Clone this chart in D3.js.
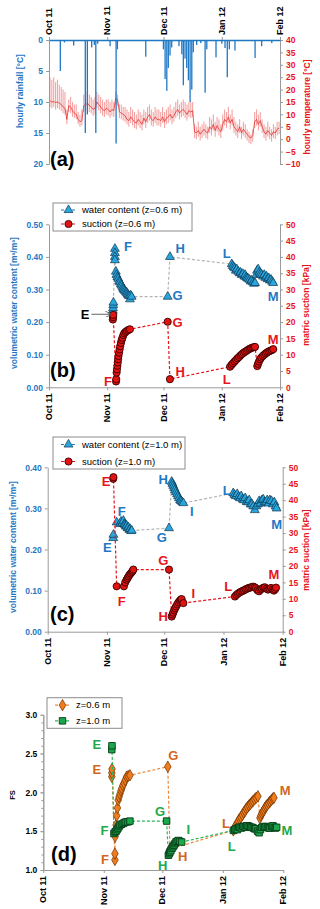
<!DOCTYPE html>
<html lang="en">
<head>
<meta charset="UTF-8">
<title>Rainfall, suction and FS, Oct 2011 - Feb 2012</title>
<script src="https://cdn.jsdelivr.net/npm/d3@7"></script>
<style>
  body { margin: 0; background: #fff; }
  svg { display: block; font-family: "Liberation Sans", Arial, sans-serif; }
</style>
</head>
<body>
<svg id="chart" width="320" height="909"></svg>
<script>
// ---- data (day = days after 1 Oct 2011) ----
const monthDays = [0, 31, 61, 92, 123];
const monthLabels = ["Oct 11", "Nov 11", "Dec 11", "Jan 12", "Feb 12"];

// hourly rainfall peaks [mm]
const rainDay = [6.0, 8.2, 13.1, 19.3, 20.4, 22.7, 24.1, 24.9, 25.9, 32.5, 35.7, 36.4, 51.5,
  60.9, 61.8, 62.7, 63.5, 64.4, 65.3, 69.2, 70.7, 71.5, 72.4, 73.3, 74.2, 75.1, 76.0, 76.8,
  78.6, 80.8, 83.1, 84.0, 88.9, 92.0, 93.7, 94.9, 96.0, 99.0, 109.7, 113.2, 118.6];
const rainMm = [5.0, 0.4, 0.9, 15.0, 12.0, 1.2, 0.8, 15.0, 0.6, 1.0, 16.7, 1.5, 2.7,
  1.5, 6.3, 8.2, 4.5, 2.5, 1.2, 1.0, 2.3, 7.3, 3.0, 4.5, 6.5, 10.0, 8.0, 2.0,
  0.8, 0.5, 8.5, 1.5, 2.8, 0.6, 1.3, 6.0, 1.5, 1.7, 2.9, 1.0, 0.5];

// daily temperature [°C]
const tempMean = [15.5,15,15.2,14.8,15,14.5,14,13,12.5,8, 13.5,13,11.5,10.5,10,8,7,7.5,13.5,14,
  14.5,13.5,13,12,12.5,15,14,13,12,11.5, 12.5,12,11,12,11.5,16.5,16,11,10.5,10,
  9.5,8,7.5,9,8,7,6.5,8,7,6, 8.5,7,9,10,8,7.5,9,8,8,7.5,
  9,7,8.5,9,10,8.5,9.5,11,12,10.5, 11.5,12,11,10,11.5,11,11.5,3,2.5,3.5,
  2,3,4,3,2.5,5,4,6,3.5,5.5, 4,3,6,8,7,9,6.5,8,5,4,
  3,5,2.5,4,3,2,1,0.5,1.5,7, 8,6,7.5,5,3,2,3.5,2.5,1.5,3, 2.5,4,4.5];
const tempMax = [25,24,25,23,24,22,21,20,19,12, 16,17,15,14,14,11,10,12,18,19,
  19,18,17,16,17,19,18,17,16,15, 16,16,15,16,15,19,18,14,14,13,
  13,12,11,13,12,11,10,12,11,10, 12,11,13,14,12,11,13,12,12,11,
  13,11,12,13,14,12,13,15,16,14, 15,16,15,14,15,15,15,6,5,7,
  5,6,7,6,5,9,8,10,7,9, 8,6,10,12,11,13,10,12,9,7,
  6,8,5,7,6,4,3,2,4,11, 12,10,11,8,6,5,7,5,4,6, 5,7,7];
const tempMin = [13,12.5,13,12,12.5,12,11.5,10.5,10,6, 11,10.5,9,8.5,8,6,5,5.5,11,11.5,
  12,11,10.5,9.5,10,12.5,11.5,10.5,9.5,9, 10,9.5,8.5,9.5,9,14,13.5,8.5,8,7.5,
  7,6,5,6.5,5.5,4.5,4,5.5,4.5,3.5, 6,4.5,6.5,7.5,5.5,5,6.5,5.5,5.5,5,
  6.5,4.5,6,6.5,7.5,6,7,8.5,9.5,8, 9,9.5,8.5,7.5,9,8.5,9,0.5,0,1,
  -0.5,0.5,1.5,0.5,0,2.5,1.5,3.5,1,3, 1.5,0.5,3.5,5.5,4.5,6.5,4,5.5,2.5,1.5,
  0.5,2.5,0,1.5,0.5,-0.5,-1.5,-2,-1,4.5, 5.5,3.5,5,2.5,0.5,-0.5,1,0,-1,0.5, 0,1.5,2];

// (b) z = 0.6 m : [day, water content m3/m3] and [day, suction kPa]
const wcB = [[34.0,0.235],[34.1,0.243],[34.2,0.252],[34.3,0.260],
  [35.1,0.425],[35.1,0.412],[35.1,0.400],[35.1,0.390],[35.6,0.355],[35.9,0.345],[36.4,0.338],
  [36.9,0.333],[37.4,0.326],[37.8,0.322],[38.3,0.316],[38.7,0.312],[39.2,0.306],[39.6,0.302],
  [40.0,0.298],[40.5,0.296],[41.0,0.292],[41.4,0.290],[41.8,0.286],[42.2,0.283],[42.6,0.280],
  [43.1,0.270],[43.5,0.282],[44.0,0.278],
  [63.2,0.278],[64.4,0.400],
  [97.3,0.378],[97.8,0.372],[98.4,0.368],[99.0,0.365],[99.5,0.358],[100.0,0.362],[100.8,0.355],
  [101.5,0.350],[102.0,0.352],[102.6,0.345],[103.2,0.348],[104.0,0.340],[104.4,0.345],[105.0,0.338],
  [105.5,0.335],[106.1,0.333],[106.8,0.330],[107.4,0.325],[107.9,0.328],[108.6,0.322],[109.2,0.318],
  [109.7,0.320],[110.4,0.345],[110.8,0.358],[111.4,0.362],[112.0,0.352],[112.6,0.348],[113.3,0.345],
  [114.0,0.340],[114.6,0.345],[115.2,0.336],[115.8,0.340],[116.4,0.332],[117.0,0.335],[117.6,0.328],
  [118.2,0.330],[118.8,0.324],[119.4,0.320]];
const suB = [[34.0,20.8],[34.1,21.5],[34.2,22.2],
  [35.7,1.8],[35.8,2.5],[36.0,4.5],[36.2,5.5],[36.4,6.6],[36.6,7.6],[36.8,8.6],[37.0,9.6],
  [37.3,10.6],[37.6,11.6],[37.9,12.6],[38.3,13.6],[38.7,14.5],[39.1,15.2],[39.6,16.0],[40.1,16.6],
  [40.8,17.0],[41.5,17.3],[42.3,17.6],[43.1,17.8],
  [63.2,20.1],[64.4,2.5],
  [96.4,6.3],[97.2,6.9],[98.0,7.4],[98.8,7.9],[99.6,8.4],[100.4,8.9],[101.2,9.3],[102.0,9.8],
  [102.8,10.2],[103.6,10.6],[104.4,10.9],[105.2,11.2],[106.0,11.5],[106.8,11.8],[107.6,12.0],
  [108.4,12.2],[109.2,12.3],[109.7,12.4],
  [110.9,6.5],[111.3,7.2],[111.8,7.9],[112.4,8.6],[113.0,9.1],[113.8,9.6],[114.6,10.0],
  [115.4,10.4],[116.2,10.7],[117.0,11.0],[117.8,11.2],[118.6,11.4],[119.4,11.7]];

// (c) z = 1.0 m
const wcC = [[34.3,0.228],[34.4,0.236],[36.1,0.266],[37.8,0.262],[38.4,0.268],[39.0,0.264],
  [39.6,0.270],[40.1,0.262],[40.5,0.260],[40.9,0.256],[41.3,0.258],[41.8,0.252],[42.2,0.254],
  [42.7,0.248],[43.1,0.250],[43.6,0.245],[44.0,0.246],
  [63.5,0.252],
  [64.9,0.365],[65.3,0.360],[65.7,0.355],[66.2,0.350],[66.6,0.345],[67.1,0.340],[67.7,0.335],
  [68.2,0.330],[68.7,0.325],[69.3,0.320],[69.8,0.318],[70.4,0.315],[71.0,0.313],
  [97.1,0.337],[97.8,0.333],[98.5,0.330],[99.2,0.335],[99.9,0.328],[100.6,0.325],[101.3,0.330],
  [102.0,0.322],[102.7,0.320],[103.4,0.325],[104.1,0.316],[104.8,0.315],[105.5,0.320],[106.2,0.310],
  [106.9,0.310],[107.6,0.305],[108.4,0.296],[109.2,0.305],[110.0,0.310],[110.7,0.318],[111.4,0.312],
  [112.1,0.320],[112.8,0.322],[113.5,0.315],[114.2,0.315],[114.9,0.320],[115.6,0.312],[116.3,0.320],
  [117.1,0.318],[117.9,0.310],[118.6,0.315],[119.3,0.305],[119.8,0.300]];
const suC = [[34.3,46.5],[34.4,47.0],
  [36.1,13.8],[39.9,13.8],[40.6,15.0],[41.3,15.8],[41.8,16.3],[42.3,16.8],[42.8,17.3],[43.4,17.7],
  [44.0,18.1],[44.5,18.5],[44.8,18.9],
  [63.5,18.9],
  [64.9,4.6],[65.3,5.2],[65.7,5.8],[66.2,6.5],[66.7,7.1],[67.2,7.7],[67.8,8.3],[68.4,8.9],
  [69.1,9.4],[69.7,9.8],[70.1,9.9],[71.0,8.7],
  [98.0,10.7],[98.8,11.2],[99.6,11.6],[100.4,11.9],[101.2,12.2],[102.0,12.4],[102.8,12.6],
  [103.6,12.9],[104.4,13.1],[105.2,13.3],[106.0,13.4],[106.8,13.6],[107.6,13.7],[108.4,13.5],
  [109.0,13.2],[109.8,12.6],[110.6,12.3],[111.4,12.8],[112.1,13.1],[112.9,13.4],[113.7,13.5],
  [114.5,13.1],[115.3,12.8],[116.1,13.0],[116.9,13.3],[117.7,12.8],[118.4,12.5],[119.0,12.9],
  [119.5,13.4]];

// (d) factor of safety
const fs06 = [[35.1,2.20],[35.1,2.25],[35.2,2.30],
  [36.7,1.13],[36.7,1.21],[36.8,1.43],[37.0,1.50],[37.3,1.58],[37.6,1.70],[38.0,1.80],[38.4,1.90],
  [38.8,1.94],[39.3,1.98],[39.8,2.02],[40.2,2.05],[40.8,2.09],[41.4,2.12],[42.0,2.16],[42.7,2.20],
  [43.5,2.21],[44.4,2.22],
  [63.8,2.33],[64.9,1.27],
  [97.4,1.51],[98.0,1.54],[98.6,1.57],[99.3,1.60],[100.0,1.63],[100.6,1.66],[101.3,1.68],
  [102.0,1.71],[102.7,1.74],[103.4,1.76],[104.0,1.79],[104.7,1.81],[105.4,1.83],[106.1,1.85],
  [106.8,1.87],[107.5,1.89],[108.3,1.91],[109.1,1.93],[110.0,1.95],
  [111.0,1.67],[111.5,1.70],[112.0,1.73],[112.6,1.75],[113.1,1.77],[113.6,1.80],[114.2,1.82],
  [114.8,1.84],[115.5,1.86],[116.2,1.88],[116.9,1.90],[117.6,1.92],[118.2,1.93]];
const fs10 = [[35.1,2.55],[35.2,2.60],
  [36.2,1.47],[36.8,1.49],[37.3,1.50],[37.8,1.52],[38.3,1.54],[38.8,1.56],[39.3,1.58],[40.1,1.59],
  [40.9,1.60],[41.6,1.61],[42.4,1.62],[43.4,1.62],[44.4,1.63],
  [63.2,1.63],
  [64.1,1.19],[64.5,1.21],[64.9,1.23],[65.4,1.25],[66.0,1.28],[66.5,1.30],[67.0,1.32],[67.5,1.34],
  [68.0,1.36],[68.6,1.37],[69.2,1.38],[70.0,1.37],[70.9,1.36],
  [97.4,1.51],[98.1,1.52],[98.8,1.53],[99.5,1.52],[100.2,1.55],[100.8,1.55],[101.5,1.54],
  [102.2,1.56],[102.9,1.56],[103.6,1.55],[104.2,1.57],[104.9,1.57],[105.6,1.56],[106.3,1.55],
  [107.0,1.55],[107.7,1.54],[108.4,1.53],[109.0,1.53],[109.8,1.50],[110.6,1.48],[111.3,1.52],
  [112.0,1.55],[112.8,1.56],[113.5,1.55],[114.2,1.56],[114.9,1.55],[115.6,1.54],[116.2,1.54],
  [117.0,1.56],[117.7,1.57],[118.4,1.55],[119.0,1.54],[119.6,1.55]];

// point labels: [text, colour, day, value, axis]
const labB = [["F","blue",42.1,0.431,"wc"],["H","blue",69.8,0.427,"wc"],["L","blue",94.6,0.409,"wc"],
  ["G","blue",68.5,0.283,"wc"],["M","blue",119.3,0.278,"wc"],["E","black",19.2,0.224,"wc"],
  ["G","red",68.5,19.9,"su"],["M","red",119.4,14.7,"su"],["F","red",31.4,1.7,"su"],
  ["H","red",69.8,4.8,"su"],["L","red",94.6,2.5,"su"]];
const labC = [["E","red",30.5,45.7,"su"],["H","blue",60.5,0.370,"wc"],["L","blue",93.7,0.343,"wc"],
  ["F","blue",38.7,0.292,"wc"],["I","blue",75.4,0.292,"wc"],["M","blue",119.8,0.262,"wc"],
  ["E","blue",31.2,0.206,"wc"],["G","blue",59.7,0.228,"wc"],["G","red",60.5,21.8,"su"],
  ["M","red",118.4,17.3,"su"],["F","red",38.7,9.1,"su"],["I","red",76.2,11.5,"su"],
  ["L","red",94.5,13.7,"su"],["H","red",60.5,4.6,"su"]];
const labD = [["E","green",27.4,2.62],["E","orange",27.4,2.30],["G","orange",66.6,2.47],
  ["M","orange",123.9,2.03],["G","green",59.8,1.75],["F","green",31.3,1.51],["I","green",74.3,1.52],
  ["M","green",124.8,1.51],["L","orange",93.6,1.60],["L","green",96.6,1.30],["H","orange",71.5,1.17],
  ["F","orange",31.6,1.13],["H","green",61.2,1.06]];

// ---- styles ----
const col = {
  blue: "#1f78c4", red: "#e8141b", black: "#000", orange: "#d2661c", green: "#22a84a",
  tri: "#2aa6de", triEdge: "#0b3550", circ: "#e01212", circEdge: "#3a0000",
  dia: "#f07c1c", diaEdge: "#6a3000", sq: "#1ba84c", sqEdge: "#073a17",
  grey: "#9a9a9a", pink: "#f4a4a4", tline: "#e33232"
};

const svg = d3.select("#chart");
const t0 = Date.UTC(2011, 9, 1);
const day = d => new Date(t0 + d * 864e5);

function xScale(x0, x1) {
  return d3.scaleUtc().domain([day(0), day(123)]).range([x0, x1]);
}

function styleAxis(g, color, size) {
  g.attr("font-family", null).attr("font-size", null);
  g.select(".domain").attr("stroke", col.grey);
  g.selectAll(".tick line").attr("stroke", col.grey);
  g.selectAll("text").attr("fill", color)
    .style("font-size", (size || 8.5) + "px").style("font-weight", "bold");
}

function yAxis(scale, x, ticks, fmt, color, side) {
  const ax = (side === "right" ? d3.axisRight(scale) : d3.axisLeft(scale))
    .tickValues(ticks).tickFormat(fmt).tickSize(3).tickPadding(3).tickSizeOuter(0);
  const g = svg.append("g").attr("transform", `translate(${x},0)`).call(ax);
  styleAxis(g, color);
  return g;
}

function monthAxis(x, y, top) {
  const ax = (top ? d3.axisTop(x) : d3.axisBottom(x))
    .tickValues(monthDays.map(day)).tickFormat("").tickSize(3).tickSizeOuter(0);
  const g = svg.append("g").attr("transform", `translate(0,${y})`).call(ax);
  styleAxis(g, "#000");
  monthDays.forEach((m, i) => {
    svg.append("text")
      .attr("transform", `translate(${x(day(m))},${top ? y - 5 : y + 6}) rotate(-90)`)
      .attr("text-anchor", top ? "start" : "end")
      .attr("dy", "0.35em")
      .style("font-size", "9px").style("font-weight", "bold")
      .text(monthLabels[i]);
  });
  return g;
}

function axisTitle(text, x, y, color, size) {
  svg.append("text")
    .attr("transform", `translate(${x},${y}) rotate(-90)`)
    .attr("text-anchor", "middle").attr("dy", "0.35em")
    .attr("fill", color)
    .style("font-size", (size || 8.5) + "px").style("font-weight", "bold")
    .text(text);
}

function panelTag(text, x, y) {
  svg.append("text").attr("x", x).attr("y", y)
    .style("font-size", "20px").style("font-weight", "bold").text(text);
}

const symTri = d3.symbol().type(d3.symbolTriangle).size(34)();
const symDia = d3.symbol().type(d3.symbolDiamond).size(38)();
const symSq = d3.symbol().type(d3.symbolSquare).size(42)();

const markers = {
  tri: g => g.append("path").attr("d", symTri).attr("fill", col.tri).attr("stroke", col.triEdge).attr("stroke-width", 0.7),
  circ: g => g.append("circle").attr("r", 3.6).attr("fill", col.circ).attr("stroke", col.circEdge).attr("stroke-width", 0.9),
  dia: g => g.append("path").attr("d", symDia).attr("fill", col.dia).attr("stroke", col.diaEdge).attr("stroke-width", 0.7),
  sq: g => g.append("path").attr("d", symSq).attr("fill", col.sq).attr("stroke", col.sqEdge).attr("stroke-width", 0.9)
};

function series(data, x, y, lineColor, marker) {
  const line = d3.line().x(d => x(day(d[0]))).y(d => y(d[1]));
  svg.append("path").datum(data).attr("d", line)
    .attr("fill", "none").attr("stroke", lineColor)
    .attr("stroke-width", 1.2).attr("stroke-dasharray", "3,2");
  svg.append("g").selectAll("g").data(data).join("g")
    .attr("transform", d => `translate(${x(day(d[0]))},${y(d[1])})`)
    .each(function () { markers[marker](d3.select(this)); });
}

function pointLabels(list, x, yFor) {
  svg.append("g").selectAll("text").data(list).join("text")
    .attr("x", d => x(day(d[2])))
    .attr("y", d => yFor(d)(d[3]))
    .attr("text-anchor", "middle").attr("dominant-baseline", "central")
    .attr("fill", d => col[d[1]])
    .style("font-size", "13px").style("font-weight", "bold")
    .text(d => d[0]);
}

function legend(x, y, w, h, rows, rowGap) {
  const g = svg.append("g").attr("transform", `translate(${x},${y})`);
  g.append("rect").attr("width", w).attr("height", h)
    .attr("fill", "#fff").attr("stroke", "#8c8c8c").attr("stroke-width", 1);
  rows.forEach((r, i) => {
    const cy = (h - rowGap) / 2 + i * rowGap;
    g.append("line").attr("x1", 8).attr("x2", 23).attr("y1", cy).attr("y2", cy)
      .attr("stroke", r.line).attr("stroke-width", 1.2).attr("stroke-dasharray", "3,2.5");
    markers[r.marker](g.append("g").attr("transform", `translate(15.5,${cy})`));
    g.append("text").attr("x", 29).attr("y", cy).attr("dy", "0.35em")
      .style("font-size", "9.5px").text(r.text);
  });
}

// ================= (a) rainfall & temperature =================
{
  const x = xScale(49, 280);
  const yR = d3.scaleLinear().domain([0, 20]).range([40, 164]);
  const yT = d3.scaleLinear().domain([-10, 40]).range([164, 40]);

  svg.append("g").selectAll("line").data(tempMean).join("line")
    .attr("x1", (d, i) => x(day(i + 0.5))).attr("x2", (d, i) => x(day(i + 0.5)))
    .attr("y1", (d, i) => yT(tempMin[i])).attr("y2", (d, i) => yT(tempMax[i]))
    .attr("stroke", col.pink).attr("stroke-width", 1.1);
  svg.append("path").datum(tempMean)
    .attr("d", d3.line().x((d, i) => x(day(i + 0.5))).y(d => yT(d)))
    .attr("fill", "none").attr("stroke", col.tline).attr("stroke-width", 0.8);

  svg.append("g").selectAll("rect").data(rainMm).join("rect")
    .attr("x", (d, i) => x(day(rainDay[i])) - 0.6).attr("width", 1.3)
    .attr("y", yR(0)).attr("height", d => yR(d) - yR(0))
    .attr("fill", col.blue);

  yAxis(yR, 49, [0, 5, 10, 15, 20], d3.format("d"), col.blue, "left");
  yAxis(yT, 280, d3.range(-10, 41, 5), d3.format("d"), col.red, "right");
  monthAxis(x, 40, true).select(".domain").attr("stroke", col.blue).attr("stroke-width", 1.4);

  axisTitle("hourly rainfall [°C]", 20, 91, col.blue);
  axisTitle("hourly temperature [°C]", 307, 107, col.red);
  panelTag("(a)", 50, 166);
}

// ================= (b) z = 0.6 m =================
{
  const x = xScale(49, 280);
  const yW = d3.scaleLinear().domain([0, 0.5]).range([387.3, 224.3]);
  const yS = d3.scaleLinear().domain([0, 50]).range([387.3, 224.3]);

  yAxis(yW, 49, d3.range(0, 0.51, 0.1), d3.format(".2f"), col.blue, "left");
  yAxis(yS, 280, d3.range(0, 51, 5), d3.format("d"), col.red, "right");
  monthAxis(x, 387.3, false);

  series(wcB, x, yW, "#b4b4b4", "tri");
  series(suB, x, yS, col.red, "circ");

  // arrow pointing at E
  svg.append("defs").append("marker").attr("id", "arr")
    .attr("viewBox", "0 0 10 10").attr("refX", 9).attr("refY", 5)
    .attr("markerWidth", 7).attr("markerHeight", 7).attr("orient", "auto")
    .append("path").attr("d", "M0,0 L10,5 L0,10").attr("fill", "none").attr("stroke", "#555").attr("stroke-width", 1.3);
  svg.append("line")
    .attr("x1", x(day(22.6))).attr("x2", x(day(33.0)))
    .attr("y1", yW(0.224)).attr("y2", yW(0.224))
    .attr("stroke", "#555").attr("stroke-width", 0.9).attr("marker-end", "url(#arr)");

  pointLabels(labB, x, d => d[4] === "wc" ? yW : yS);
  legend(53, 203, 139, 28, [
    { text: "water content (z=0.6 m)", line: "#1f78c4", marker: "tri" },
    { text: "suction (z=0.6 m)", line: col.red, marker: "circ" }
  ], 14);

  axisTitle("volumetric water content [m³/m³]", 14, 303, col.blue);
  axisTitle("matric suction [kPa]", 306, 305, col.red);
  panelTag("(b)", 50, 377);
}

// ================= (c) z = 1.0 m =================
{
  const x = xScale(47.7, 282.7);
  const yW = d3.scaleLinear().domain([0, 0.4]).range([631.7, 467.3]);
  const yS = d3.scaleLinear().domain([0, 50]).range([631.7, 467.3]);

  yAxis(yW, 47.7, d3.range(0, 0.41, 0.1), d3.format(".2f"), col.blue, "left");
  yAxis(yS, 282.7, d3.range(0, 51, 5), d3.format("d"), col.red, "right");
  monthAxis(x, 631.7, false);

  series(wcC, x, yW, "#b4b4b4", "tri");
  series(suC, x, yS, col.red, "circ");

  pointLabels(labC, x, d => d[4] === "wc" ? yW : yS);
  legend(53, 437, 132, 32, [
    { text: "water content (z=1.0 m)", line: "#1f78c4", marker: "tri" },
    { text: "suction (z=1.0 m)", line: col.red, marker: "circ" }
  ], 17);

  axisTitle("volumetric water content [m³/m³]", 13.5, 547, col.blue);
  axisTitle("matric suction [kPa]", 306, 550, col.red);
  panelTag("(c)", 50, 621);
}

// ================= (d) factor of safety =================
{
  const x = xScale(43.3, 283.3);
  const y = d3.scaleLinear().domain([1, 3]).range([870, 714.7]);

  const minor = svg.append("g").attr("transform", "translate(43.3,0)")
    .call(d3.axisLeft(y).tickValues(d3.range(1, 3.001, 0.1)).tickFormat("").tickSize(2).tickSizeOuter(0));
  styleAxis(minor, "#000");
  yAxis(y, 43.3, [1, 1.5, 2, 2.5, 3], d3.format(".1f"), "#000", "left");
  monthAxis(x, 870, false);

  series(fs06, x, y, "#e8883a", "dia");
  series(fs10, x, y, "#2fb558", "sq");

  pointLabels(labD, x, () => y);
  legend(47, 697.7, 75, 30.6, [
    { text: "z=0.6 m", line: "#e8883a", marker: "dia" },
    { text: "z=1.0 m", line: "#2fb558", marker: "sq" }
  ], 15.7);

  axisTitle("FS", 12, 795, "#000", 7.5);
  panelTag("(d)", 51, 861);
}
</script>
</body>
</html>
